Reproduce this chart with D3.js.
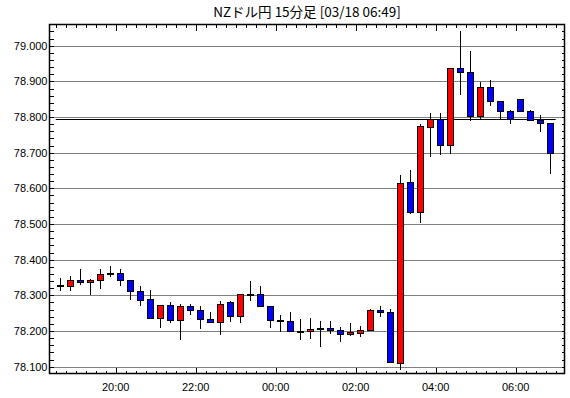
<!DOCTYPE html>
<html>
<head>
    <meta charset="utf-8">
    <title>NZドル円 15分足</title>
    <script type="text/javascript" src="https://d3js.org/d3.v7.min.js"></script>
    <style>
        body { margin: 0; background: #fff; }
        svg { display: block; }
    </style>
</head>
<body>
    <svg width="570" height="398"></svg>

    <script>
        // 15分足 データ (03/17 18:30 ～ 03/18 06:45)
        var times = ["18:30", "18:45", "19:00", "19:15", "19:30", "19:45", "20:00", "20:15", "20:30", "20:45",
            "21:00", "21:15", "21:30", "21:45", "22:00", "22:15", "22:30", "22:45", "23:00", "23:15",
            "23:30", "23:45", "00:00", "00:15", "00:30", "00:45", "01:00", "01:15", "01:30", "01:45",
            "02:00", "02:15", "02:30", "02:45", "03:00", "03:15", "03:30", "03:45", "04:00", "04:15",
            "04:30", "04:45", "05:00", "05:15", "05:30", "05:45", "06:00", "06:15", "06:30", "06:45"];
        var opens = [78.328, 78.326, 78.344, 78.338, 78.343, 78.364, 78.363, 78.343, 78.313, 78.290,
            78.236, 78.273, 78.231, 78.269, 78.260, 78.234, 78.226, 78.280, 78.243, 78.303,
            78.303, 78.269, 78.231, 78.229, 78.200, 78.200, 78.208, 78.208, 78.203, 78.192,
            78.194, 78.203, 78.259, 78.254, 78.111, 78.617, 78.534, 78.772, 78.795, 78.722,
            78.938, 78.927, 78.804, 78.885, 78.846, 78.818, 78.851, 78.818, 78.793, 78.784];
        var highs = [78.349, 78.353, 78.375, 78.345, 78.373, 78.381, 78.373, 78.343, 78.325, 78.316,
            78.273, 78.282, 78.275, 78.275, 78.269, 78.254, 78.283, 78.283, 78.304, 78.340,
            78.327, 78.269, 78.246, 78.254, 78.234, 78.237, 78.228, 78.228, 78.211, 78.223,
            78.214, 78.262, 78.271, 78.262, 78.637, 78.652, 78.780, 78.812, 78.812, 78.938,
            79.040, 78.984, 78.899, 78.905, 78.846, 78.821, 78.851, 78.821, 78.807, 78.784];
        var lows = [78.314, 78.314, 78.331, 78.303, 78.320, 78.354, 78.328, 78.289, 78.272, 78.236,
            78.212, 78.226, 78.179, 78.248, 78.209, 78.224, 78.191, 78.228, 78.225, 78.288,
            78.269, 78.210, 78.200, 78.200, 78.177, 78.180, 78.157, 78.194, 78.172, 78.189,
            78.186, 78.203, 78.242, 78.112, 78.094, 78.532, 78.507, 78.690, 78.696, 78.700,
            78.864, 78.791, 78.795, 78.834, 78.795, 78.783, 78.817, 78.793, 78.761, 78.643];
        var closes = [78.328, 78.343, 78.338, 78.344, 78.360, 78.361, 78.343, 78.312, 78.287, 78.236,
            78.273, 78.230, 78.269, 78.260, 78.234, 78.226, 78.277, 78.243, 78.303, 78.303,
            78.269, 78.231, 78.229, 78.200, 78.200, 78.206, 78.205, 78.203, 78.192, 78.197,
            78.203, 78.259, 78.253, 78.112, 78.614, 78.534, 78.774, 78.795, 78.722, 78.938,
            78.927, 78.804, 78.885, 78.845, 78.817, 78.795, 78.817, 78.793, 78.784, 78.700];
        var yTickValues = [78.1, 78.2, 78.3, 78.4, 78.5, 78.6, 78.7, 78.8, 78.9, 79.0];
        var refLine = 78.795;
        var title = "NZドル円 15分足 [03/18 06:49]";

        var svg = d3.select("svg");
        var frame = { left: 49.5, right: 564.5, top: 24.5, bottom: 373.5 };

        // 日付付きの時刻に変換 (12時以降は前日)
        var parse = d3.timeParse("%m/%d %H:%M");
        function toDate(s) {
            var h = +s.slice(0, 2);
            return parse((h >= 12 ? "03/17 " : "03/18 ") + s);
        }
        var data = times.map(function (t, i) {
            return { t: toDate(t), o: opens[i], h: highs[i], l: lows[i], c: closes[i] };
        });

        var x = d3.scaleTime()
            .domain([toDate("18:30"), d3.timeMinute.offset(toDate("06:45"), 15)])
            .range([55.7, 555.7]);
        var y = d3.scaleLinear()
            .domain([78.1, 79.0])
            .range([366.7, 45.7]);

        // タイトル
        svg.append("text")
            .attr("x", (frame.left + frame.right) / 2)
            .attr("y", 17)
            .attr("text-anchor", "middle")
            .style("font-family", "'Noto Sans CJK JP', sans-serif")
            .style("font-size", "13.5px")
            .text(title);

        // 横グリッド (点線)
        svg.append("g")
            .selectAll("line")
            .data(yTickValues)
            .enter()
            .append("line")
            .attr("x1", frame.left)
            .attr("x2", frame.right)
            .attr("y1", function (d) { return Math.round(y(d)) + 0.5; })
            .attr("y2", function (d) { return Math.round(y(d)) + 0.5; })
            .attr("stroke", "#000")
            .attr("stroke-dasharray", "1,1");

        // y 目盛 (0.02 刻み)
        var minorY = d3.range(78.10, 79.05, 0.02).map(function (v) { return +v.toFixed(2); });
        var yt = svg.append("g").attr("shape-rendering", "crispEdges");
        yt.selectAll(".yl").data(minorY).enter().append("line")
            .attr("x1", frame.left).attr("x2", frame.left + 4)
            .attr("y1", function (d) { return Math.round(y(d)) + 0.5; })
            .attr("y2", function (d) { return Math.round(y(d)) + 0.5; })
            .attr("stroke", "#000");
        yt.selectAll(".yr").data(minorY).enter().append("line")
            .attr("x1", frame.right - 3).attr("x2", frame.right)
            .attr("y1", function (d) { return Math.round(y(d)) + 0.5; })
            .attr("y2", function (d) { return Math.round(y(d)) + 0.5; })
            .attr("stroke", "#000");

        svg.append("g")
            .selectAll("text")
            .data(yTickValues)
            .enter()
            .append("text")
            .attr("x", frame.left - 2)
            .attr("y", function (d) { return y(d); })
            .attr("dy", "0.35em")
            .attr("text-anchor", "end")
            .style("font-family", "'Liberation Sans', Arial, sans-serif")
            .style("font-size", "11px")
            .text(function (d) { return d3.format(".3f")(d); });

        // x 目盛 (15分刻み, 2時間ごとに長め)
        var xTicks = d3.timeMinute.every(15).range(x.invert(frame.left), x.invert(frame.right));
        function isMajor(d) { return d.getMinutes() === 0 && d.getHours() % 2 === 0; }
        var xt = svg.append("g").attr("shape-rendering", "crispEdges");
        xt.selectAll(".xb").data(xTicks).enter().append("line")
            .attr("x1", function (d) { return Math.round(x(d)) + 0.5; })
            .attr("x2", function (d) { return Math.round(x(d)) + 0.5; })
            .attr("y1", frame.bottom)
            .attr("y2", function (d) { return frame.bottom - (isMajor(d) ? 6 : 3); })
            .attr("stroke", "#000");
        xt.selectAll(".xt").data(xTicks).enter().append("line")
            .attr("x1", function (d) { return Math.round(x(d)) + 0.5; })
            .attr("x2", function (d) { return Math.round(x(d)) + 0.5; })
            .attr("y1", frame.top)
            .attr("y2", function (d) { return frame.top + (isMajor(d) ? 6 : 3); })
            .attr("stroke", "#000");

        svg.append("g")
            .selectAll("text")
            .data(xTicks.filter(isMajor))
            .enter()
            .append("text")
            .attr("x", function (d) { return x(d); })
            .attr("y", 391)
            .attr("text-anchor", "middle")
            .style("font-family", "'Liberation Sans', Arial, sans-serif")
            .style("font-size", "11px")
            .text(d3.timeFormat("%H:%M"));

        // 基準線
        svg.append("line")
            .attr("x1", x(data[0].t))
            .attr("x2", x(d3.timeMinute.offset(data[data.length - 1].t, 15)))
            .attr("y1", Math.round(y(refLine)) + 0.5)
            .attr("y2", Math.round(y(refLine)) + 0.5)
            .attr("stroke", "#000");

        // ローソク足
        var candles = svg.append("g")
            .attr("shape-rendering", "crispEdges")
            .selectAll("g")
            .data(data)
            .enter()
            .append("g")
            .attr("transform", function (d) {
                return "translate(" + (Math.floor(x(d.t) + 5) + 0.5) + ",0)";
            });

        candles.append("line")
            .attr("y1", function (d) { return Math.round(y(d.h)); })
            .attr("y2", function (d) { return Math.round(y(d.l)) + 1; })
            .attr("stroke", "#000");

        candles.append("rect")
            .attr("x", -3)
            .attr("width", 6)
            .attr("y", function (d) { return Math.round(y(Math.max(d.o, d.c))) + 0.5; })
            .attr("height", function (d) {
                return Math.max(1, Math.round(y(Math.min(d.o, d.c))) - Math.round(y(Math.max(d.o, d.c))));
            })
            .attr("fill", function (d) {
                return d.c > d.o ? "#ff0000" : (d.c < d.o ? "#0000ff" : "#000");
            })
            .attr("stroke", "#000");

        // 枠
        svg.append("rect")
            .attr("x", frame.left)
            .attr("y", frame.top)
            .attr("width", frame.right - frame.left)
            .attr("height", frame.bottom - frame.top)
            .attr("fill", "none")
            .attr("stroke", "#000")
            .attr("stroke-width", 1.5);
    </script>
</body>
</html>
